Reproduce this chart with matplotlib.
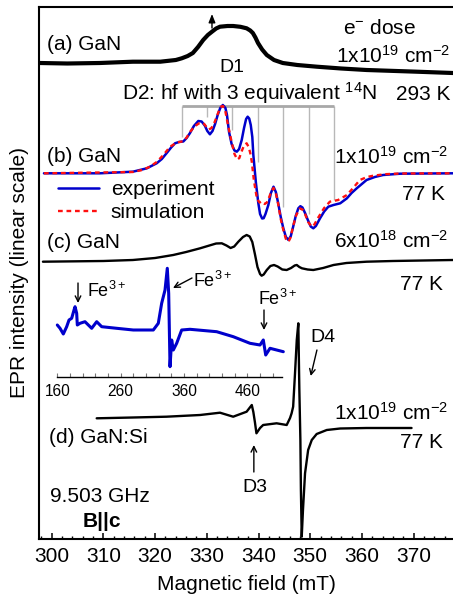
import matplotlib
matplotlib.use('Agg')
import matplotlib.pyplot as plt
from matplotlib.ticker import MultipleLocator

plt.rcParams['font.family'] = ['Liberation Sans', 'DejaVu Sans']
plt.rcParams['mathtext.default'] = 'regular'

# ---------------- data (field in mT, intensity in arbitrary offset units) ----------------
# (a) GaN, 293 K, broad D1 line
a_field = [297.7, 303.0, 309.3, 315.7, 321.0, 324.0, 325.15, 326.3, 327.3, 328.3,
           329.3, 330.2, 331.0, 331.8, 332.55, 334.0, 335.1, 336.5, 337.7, 338.4,
           338.9, 339.4, 339.9, 340.7, 341.6, 343.0, 344.7, 347.5, 351.3, 356.0,
           360.9, 370.6, 377.6]
a_int = [476, 475.5, 476, 477.3, 477.3, 479, 480.7, 483, 486, 492,
         499, 504, 507.3, 510.5, 512.3, 513, 513, 512.2, 510.7, 508.5,
         506, 501.5, 496, 489.5, 484, 479, 476, 474, 472.3, 470.5,
         469, 467.3, 466]

# (b) GaN, 77 K, experiment
b_exp_field = [298.5, 309.3, 315.7, 318.4, 320.3, 321.3, 322.2, 323.1, 323.85, 324.6,
               325.45, 326.1, 326.75, 327.5, 328.35, 329.0, 329.6, 330.1, 330.6, 331.1,
               331.6, 332.1, 332.6, 333.1, 333.6, 333.9, 334.3, 334.8, 335.35, 335.8,
               336.25, 336.75, 337.2, 337.6, 337.9, 338.2, 338.5, 338.8, 339.0, 339.5,
               339.96, 340.3, 340.7, 341.0, 341.35, 341.9, 342.4, 342.9, 343.35, 343.8,
               344.3, 344.8, 345.3, 345.8, 346.25, 346.7, 347.2, 347.7, 348.1, 348.5,
               349.0, 349.5, 350.1, 350.6, 351.1, 351.9, 352.7, 353.5, 354.5, 355.8,
               357.1, 358.0, 359.0, 360.9, 362.5, 364.1, 367.4, 377.6]
b_exp_int = [365.7, 365.7, 367.3, 370.7, 375.7, 380, 385.7, 391.5, 395.7, 397,
             397.5, 401, 406, 413, 418, 417.5, 413.5, 408, 404.7, 408,
             415, 424, 431, 434, 431, 424, 407, 395, 388.5, 387.3,
             390, 399, 411, 420, 422.3, 420.5, 414, 402, 384, 356,
             336, 325, 320.5, 320.8, 325, 334, 346, 352.3, 347, 336,
             322, 310.7, 302, 299, 303, 312.3, 323, 330.7, 332.8, 331.5,
             326, 319.5, 312.5, 310.7, 313, 320.7, 327.5, 332.3, 334, 335.7,
             340.7, 346, 350.7, 359, 362, 364, 365.3, 365.7]

# (b) simulation
b_sim_field = [298.5, 315.7, 317.5, 319.0, 320.3, 321.6, 322.9, 324.2, 325.45, 326.1,
               326.75, 327.6, 328.5, 329.0, 329.5, 330.0, 330.4, 330.9, 331.4, 331.9,
               332.4, 332.8, 333.1, 333.5, 334.1, 334.5, 334.8, 335.35, 335.9, 336.3,
               336.6, 337.2, 337.7, 338.1, 338.4, 338.7, 339.1, 339.7, 340.2, 340.6,
               341.2, 341.6, 341.9, 342.5, 342.9, 343.3, 343.8, 344.3, 344.8, 345.3,
               345.8, 346.2, 346.7, 347.3, 348.0, 348.5, 349.0, 349.6, 350.3, 350.8,
               351.5, 352.7, 353.8, 355.4, 357.1, 358.3, 359.6, 361.0, 362.2, 364.5,
               367.4, 377.6]
b_sim_int = [365.7, 367, 369, 372.3, 377, 384, 392.3, 396.5, 397.8, 401.5,
             407, 412.5, 415.7, 416.3, 415, 411.5, 409.5, 411, 415.5, 422,
             429, 432.5, 433, 430, 414, 404, 397.3, 385, 379.5, 381,
             386, 393.5, 395.7, 392, 386, 377.3, 359, 340, 336.5, 337.5,
             335, 336.5, 339.5, 348, 351, 347, 335, 320, 309, 300,
             297.3, 301.5, 313, 324, 330.5, 329.5, 325, 317, 312.3, 314.5,
             321, 331, 337.3, 339, 344, 351, 359, 362, 363.3, 364.8,
             365.5, 365.7]

# hyperfine stick diagram (3 equivalent 14N)
hf_field = [325.15, 329.98, 334.93, 339.85, 344.8, 349.77, 354.66]
hf_bottom = [402, 422, 409, 377, 332, 325, 339]
hf_top = 433.5

# (c) GaN 6e18, 77 K
c_field = [298.3, 310.0, 315.7, 320.0, 323.5, 326.0, 328.7, 330.5, 331.8, 332.9,
           333.8, 334.6, 335.3, 336.1, 337.0, 337.7, 338.3, 338.8, 339.3, 339.8,
           340.3, 340.6, 341.0, 341.6, 342.3, 343.0, 343.7, 344.6, 345.45, 346.3,
           347.0, 347.4, 347.9, 348.4, 349.5, 350.6, 352.5, 354.5, 357.0, 360.9,
           366.0, 377.6]
c_int = [277.3, 278, 279, 281, 284, 287, 290.7, 293.5, 295.5, 295.7,
         293.5, 291, 292.5, 297.3, 302, 304, 302.5, 297, 285, 272,
         265, 263.3, 264.5, 269, 273, 274, 272.5, 269.5, 269, 271,
         273.5, 274, 272, 270.7, 269.5, 269, 271, 274, 276, 277.3,
         278, 279]

# (d) GaN:Si, 77 K
d_field = [308.7, 315.7, 322.2, 328.7, 332.55, 335.1, 337.7, 338.7, 339.0, 339.3,
           339.6, 340.3, 340.9, 343.5, 345.45, 346.1, 346.4, 346.7, 347.06, 347.4,
           347.7, 347.9, 348.1, 348.2, 348.36, 348.6, 349.0, 349.6, 350.3, 351.25,
           353.2, 355.8, 360.9, 369.6]
d_int = [120.7, 121.5, 122.3, 124, 126.3, 122.3, 127.3, 134, 127, 117,
         105.7, 111, 114, 115.7, 114, 121, 125.7, 132.3, 165.7, 199,
         215.7, 149, 99, 49, 2.3, 29, 65.7, 89, 99, 105,
         109, 110.5, 111, 111]

# inset: wide scan (Fe3+)
ins_field = [160, 164.3, 169.5, 174.8, 178.5, 182.7, 186.4, 188.0, 190.6, 191.6,
             195.8, 203.7, 209.0, 214.3, 222.2, 230.1, 253.8, 280.0, 311.6, 319.5,
             324.8, 330.1, 333.7, 335.9, 338.0, 340.6, 343.2, 348.5, 356.4, 369.5,
             411.7, 437.9, 464.3, 480.1, 485.3, 489.1, 495.9, 506.4, 516.9]
ins_int = [52, 48.7, 43, 50.3, 57, 58.7, 67, 70.3, 63.7, 52,
           53.7, 55.3, 52, 48.7, 55.3, 50.3, 48.7, 47, 47, 53.7,
           73.7, 87, 108.7, 83.7, 10.3, 37, 27, 33.7, 47, 47.7,
           45.3, 40.3, 33.7, 32, 37, 22, 28.7, 27, 25.3]
ins_ticks = [160, 260, 360, 460]

# ---------------- figure ----------------
W, H = 453, 595
fig = plt.figure(figsize=(W / 100, H / 100), dpi=100)
ax = fig.add_axes([39 / W, 56 / H, 414 / W, 532 / H])
ax.set_xlim(297.54, 377.62)
ax.set_ylim(0, 532)

blue = '#0000cc'
ax.vlines(hf_field, hf_bottom, hf_top, color='#b8b8b8', lw=1.0, zorder=1)
ax.hlines(hf_top, hf_field[0], hf_field[-1], color='#a8a8a8', lw=2.0, zorder=1)

lk = dict(solid_joinstyle='round', solid_capstyle='round')
ax.plot(a_field, a_int, color='black', lw=3.0, zorder=3, **lk)
l_exp, = ax.plot(b_exp_field, b_exp_int, color=blue, lw=1.8, zorder=3,
                 label='experiment', **lk)
l_sim, = ax.plot(b_sim_field, b_sim_int, color='#ff1010', lw=1.7, ls=(0, (2, 1.6)),
                 zorder=4, label='simulation')
ax.plot(c_field, c_int, color='black', lw=1.7, zorder=3, **lk)
ax.plot(d_field, d_int, color='black', lw=1.7, zorder=3, **lk)

ax.spines['right'].set_visible(False)
for side in ['left', 'bottom', 'top']:
    ax.spines[side].set_linewidth(1.5)
ax.set_yticks([])
ax.xaxis.set_major_locator(MultipleLocator(10))
ax.xaxis.set_minor_locator(MultipleLocator(2))
ax.tick_params(axis='x', which='major', direction='in', length=4.5, width=1.1,
               labelsize=15, pad=6)
ax.tick_params(axis='x', which='minor', direction='in', length=2.3, width=1.0)
ax.set_xlabel('Magnetic field (mT)', fontsize=15, labelpad=6)
ax.set_ylabel('EPR intensity (linear scale)', fontsize=15, labelpad=7)

fs = 15
kw = dict(fontsize=fs, va='baseline')
ax.text(299.09, 489, '(a) GaN', ha='left', **kw)
ax.text(356.34, 505, 'e$^{-}$ dose', ha='left', **kw)
ax.text(377.04, 476, '1x10$^{19}$ cm$^{-2}$', ha='right', **kw)
ax.text(334.87, 467, 'D1', ha='center', fontsize=14, va='baseline')
ax.text(313.6, 439, 'D2: hf with 3 equivalent $^{14}$N', ha='left', **kw)
ax.text(377.04, 439, '293 K', ha='right', **kw)
ax.text(299.09, 377.3, '(b) GaN', ha='left', **kw)
ax.text(376.65, 375.7, '1x10$^{19}$ cm$^{-2}$', ha='right', **kw)
ax.text(376.07, 339, '77 K', ha='right', **kw)
ax.text(299.09, 291, '(c) GaN', ha='left', **kw)
ax.text(376.65, 291, '6x10$^{18}$ cm$^{-2}$', ha='right', **kw)
ax.text(375.7, 249, '77 K', ha='right', **kw)
ax.text(299.48, 95.7, '(d) GaN:Si', ha='left', **kw)
ax.text(376.65, 119, '1x10$^{19}$ cm$^{-2}$', ha='right', **kw)
ax.text(375.7, 90.7, '77 K', ha='right', **kw)
ax.text(299.67, 37.3, '9.503 GHz', ha='left', **kw)
ax.text(306.05, 12.3, 'B||c', ha='left', fontweight='bold', **kw)
ax.text(350.0, 197.3, 'D4', ha='left', fontsize=14, va='baseline')
ax.text(339.2, 47.3, 'D3', ha='center', fontsize=14, va='baseline')

arr = dict(arrowstyle='->', color='black', lw=1.0, shrinkA=0, shrinkB=0)
ax.annotate('', xy=(350.1, 163), xytext=(351.3, 189), arrowprops=arr)
ax.annotate('', xy=(339.1, 94), xytext=(339.1, 67), arrowprops=arr)
ax.annotate('', xy=(331.0, 525), xytext=(331.0, 511),
            arrowprops=dict(arrowstyle='-|>,head_length=0.5,head_width=0.2',
                            color='black', lw=1.0, shrinkA=0, shrinkB=0))

ax.legend(handles=[l_exp, l_sim], loc='upper left', bbox_to_anchor=(0.045, 0.675),
          frameon=False, fontsize=fs, handlelength=2.0, handletextpad=0.55,
          labelspacing=0.2, borderpad=0, borderaxespad=0)

# ---------------- inset ----------------
axi = fig.add_axes([57.3 / W, 218 / H, 225 / W, 117 / H])
axi.patch.set_alpha(0)
axi.set_xlim(160, 515.3)
axi.set_ylim(0, 117)
axi.plot(ins_field, ins_int, color=blue, lw=2.2, clip_on=False, **lk)
for side in ['left', 'right', 'top']:
    axi.spines[side].set_visible(False)
axi.spines['bottom'].set_linewidth(1.0)
axi.set_yticks([])
axi.set_xticks(ins_ticks)
axi.xaxis.set_minor_locator(MultipleLocator(20))
axi.tick_params(axis='x', which='both', direction='in', length=3.2, width=0.8,
                color='#777777', labelsize=11.2, pad=5)

axi.text(206.9, 79.7, 'Fe$^{3+}$', fontsize=13, ha='left', va='baseline')
axi.text(374.3, 90.3, 'Fe$^{3+}$', fontsize=13, ha='left', va='baseline')
axi.text(476.9, 72, 'Fe$^{3+}$', fontsize=13, ha='left', va='baseline')
arr2 = dict(arrowstyle='->', color='black', lw=1.0, shrinkA=0, shrinkB=0)
axi.annotate('', xy=(192.7, 74), xytext=(192.7, 94), arrowprops=arr2)
axi.annotate('', xy=(342.7, 89), xytext=(372.7, 99), arrowprops=arr2)
axi.annotate('', xy=(486.4, 47), xytext=(486.4, 67), arrowprops=arr2)

fig.savefig('out.png', dpi=100)
